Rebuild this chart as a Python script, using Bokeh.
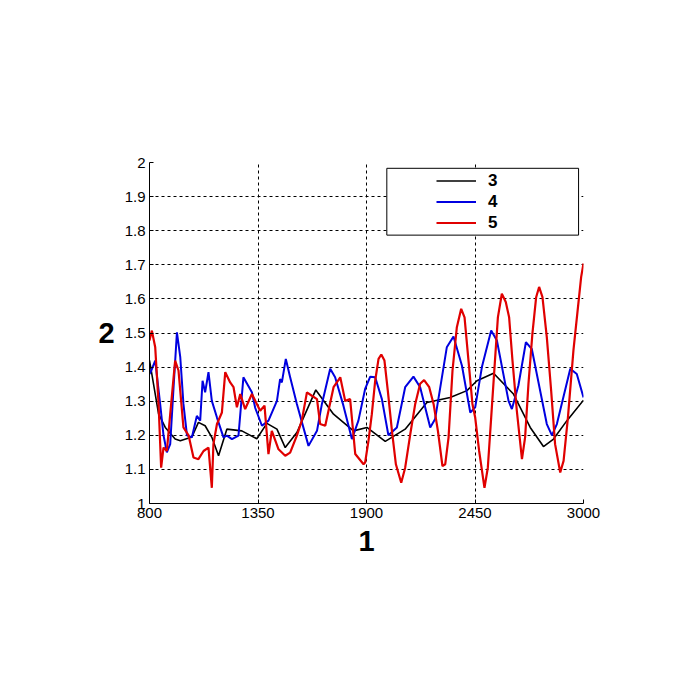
from bokeh.plotting import figure
from bokeh.models import (Range1d, FixedTicker, NumeralTickFormatter, Legend, LegendItem,
                          BoxAnnotation)
from bokeh.embed import file_html
from bokeh.resources import INLINE

# ---- data ----
x_ticks = [800, 1350, 1900, 2450, 3000]
y_ticks = [1.0, 1.1, 1.2, 1.3, 1.4, 1.5, 1.6, 1.7, 1.8, 1.9, 2.0]
series_names = ["3", "4", "5"]

x3 = [800, 846, 880, 930, 956, 1015, 1048, 1082, 1116, 1150, 1192, 1268, 1344, 1395,
      1446, 1488, 1547, 1643, 1733, 1834, 1902, 1995, 2096, 2206, 2324, 2409, 2460,
      2544, 2645, 2730, 2797, 2848, 2916, 3000]
y3 = [1.42, 1.263, 1.223, 1.189, 1.184, 1.195, 1.238, 1.228, 1.194, 1.14, 1.218, 1.213,
      1.19, 1.235, 1.218, 1.164, 1.208, 1.333, 1.262, 1.213, 1.223, 1.182, 1.218, 1.296,
      1.311, 1.331, 1.36, 1.382, 1.321, 1.223, 1.167, 1.189, 1.243, 1.303]

x4 = [800, 809, 829, 854, 871, 888, 905, 922, 939, 956, 972, 990, 1015, 1040, 1057, 1069,
      1082, 1099, 1116, 1142, 1175, 1192, 1218, 1251, 1276, 1319, 1336, 1370, 1403, 1446,
      1462, 1471, 1491, 1513, 1547, 1606, 1649, 1674, 1716, 1741, 1783, 1826, 1859, 1893,
      1919, 1944, 1978, 2011, 2054, 2096, 2138, 2172, 2223, 2248, 2307, 2341, 2384, 2426,
      2451, 2485, 2532, 2561, 2620, 2637, 2670, 2708, 2738, 2814, 2840, 2865, 2933, 2966,
      3000]
y4 = [1.38, 1.39, 1.419, 1.292, 1.2, 1.15, 1.174, 1.341, 1.502, 1.429, 1.292, 1.2, 1.194,
      1.257, 1.243, 1.36, 1.326, 1.385, 1.301, 1.252, 1.194, 1.199, 1.189, 1.199, 1.37,
      1.326, 1.28, 1.228, 1.243, 1.301, 1.365, 1.355, 1.424, 1.37, 1.292, 1.169, 1.213,
      1.292, 1.395, 1.37, 1.287, 1.189, 1.243, 1.336, 1.372, 1.37, 1.306, 1.2, 1.223,
      1.341, 1.372, 1.341, 1.223, 1.248, 1.458, 1.49, 1.404, 1.267, 1.282, 1.4, 1.507,
      1.478, 1.301, 1.277, 1.346, 1.473, 1.453, 1.233, 1.2, 1.233, 1.395, 1.38, 1.311]

x5 = [800, 812, 829, 846, 859, 871, 888, 905, 930, 947, 972, 998, 1023, 1048, 1074, 1099,
      1116, 1124, 1142, 1167, 1184, 1209, 1226, 1243, 1260, 1285, 1319, 1344, 1361, 1383,
      1403, 1420, 1454, 1488, 1513, 1547, 1572, 1598, 1623, 1649, 1665, 1691, 1733, 1767,
      1792, 1817, 1843, 1885,
      1893, 1910, 1927, 1944, 1961, 1975, 1991, 2008, 2029, 2049, 2076, 2096, 2121, 2147,
      2172, 2192, 2218, 2240, 2262, 2285, 2299, 2316, 2336, 2358, 2380, 2397, 2417, 2437,
      2451, 2471, 2498, 2515, 2532, 2549, 2566, 2586, 2606, 2623, 2640, 2662, 2688, 2704,
      2721, 2741, 2760, 2775, 2792, 2814, 2836, 2856, 2882, 2899, 2921, 2949, 2972, 2988,
      3000]
y5 = [1.478, 1.507, 1.458, 1.292, 1.105, 1.164, 1.154, 1.262, 1.419, 1.39, 1.223, 1.2,
      1.135, 1.13, 1.154, 1.164, 1.046, 1.174, 1.233, 1.267, 1.385, 1.355, 1.341, 1.282,
      1.321, 1.277, 1.321, 1.292, 1.272, 1.287, 1.145, 1.213, 1.159, 1.14, 1.149, 1.199,
      1.243, 1.326, 1.316, 1.306, 1.233, 1.228, 1.341, 1.37, 1.301, 1.306, 1.145, 1.115,
      1.12, 1.184, 1.262, 1.36, 1.424, 1.437, 1.419, 1.331, 1.213, 1.115, 1.061, 1.105,
      1.2, 1.292, 1.351, 1.362, 1.341, 1.292, 1.213, 1.11, 1.115, 1.194, 1.39, 1.517,
      1.571, 1.546, 1.419, 1.292, 1.252, 1.154, 1.046, 1.105, 1.252, 1.4, 1.546, 1.615,
      1.591, 1.546, 1.419, 1.272, 1.13, 1.194, 1.351, 1.498, 1.605, 1.635, 1.605, 1.488,
      1.331, 1.174, 1.091, 1.125, 1.252, 1.449, 1.576, 1.664, 1.704]

FONT = "Liberation Sans"

p = figure(width=700, height=700, output_backend="svg", toolbar_location=None,
           x_range=Range1d(800, 3000), y_range=Range1d(1, 2),
           min_border_left=149, min_border_right=117, min_border_top=162,
           min_border_bottom=197)
p.outline_line_color = None
p.background_fill_color = "white"
p.border_fill_color = "white"

for ax in (p.xaxis[0], p.yaxis[0]):
    ax.axis_line_color = "black"
    ax.axis_line_width = 1
    ax.major_tick_in = 4
    ax.major_tick_out = 0
    ax.minor_tick_line_color = None
    ax.major_tick_line_color = "black"
    ax.major_label_text_font = FONT
    ax.major_label_text_font_size = "15px"
    ax.major_label_text_color = "black"
    ax.axis_label_text_font = FONT
    ax.axis_label_text_font_size = "29px"
    ax.axis_label_text_font_style = "bold"
    ax.axis_label_text_color = "black"

p.xaxis.ticker = FixedTicker(ticks=x_ticks)
p.yaxis.ticker = FixedTicker(ticks=y_ticks)
p.xaxis.formatter = NumeralTickFormatter(format="0")
p.yaxis.formatter = NumeralTickFormatter(format="0.[0]")
p.xaxis.axis_label = "1"
p.yaxis.axis_label = "2"
p.yaxis.axis_label_orientation = "horizontal"
p.xaxis.major_label_standoff = 4
p.yaxis.major_label_standoff = 4
p.xaxis.axis_label_standoff = 10
p.yaxis.axis_label_standoff = 7

for g in (p.xgrid[0], p.ygrid[0]):
    g.grid_line_color = "black"
    g.grid_line_dash = "3 3"
    g.grid_line_width = 1
    g.grid_line_alpha = 1
p.xgrid.ticker = FixedTicker(ticks=x_ticks)
p.ygrid.ticker = FixedTicker(ticks=y_ticks)

r3 = p.line(x3, y3, line_color="black", line_width=1.6)
r4 = p.line(x4, y4, line_color="#0000e0", line_width=2)
r5 = p.line(x5, y5, line_color="#e00000", line_width=2.2)

box = BoxAnnotation(left=2003, right=2975, bottom=1.787, top=1.983,
                    fill_color="white", fill_alpha=1, line_color="black",
                    line_width=1, line_alpha=1)
p.add_layout(box)

legend = Legend(items=[LegendItem(label=series_names[0], renderers=[r3]),
                       LegendItem(label=series_names[1], renderers=[r4]),
                       LegendItem(label=series_names[2], renderers=[r5])],
                location=(287, 270), padding=0, spacing=0, margin=0,
                glyph_width=40, glyph_height=21, label_height=21,
                label_standoff=12, border_line_alpha=0, background_fill_alpha=0,
                label_text_font=FONT, label_text_font_size="17px",
                label_text_font_style="bold", label_text_color="black")
p.add_layout(legend)

open("out.html", "w").write(file_html(p, INLINE))
